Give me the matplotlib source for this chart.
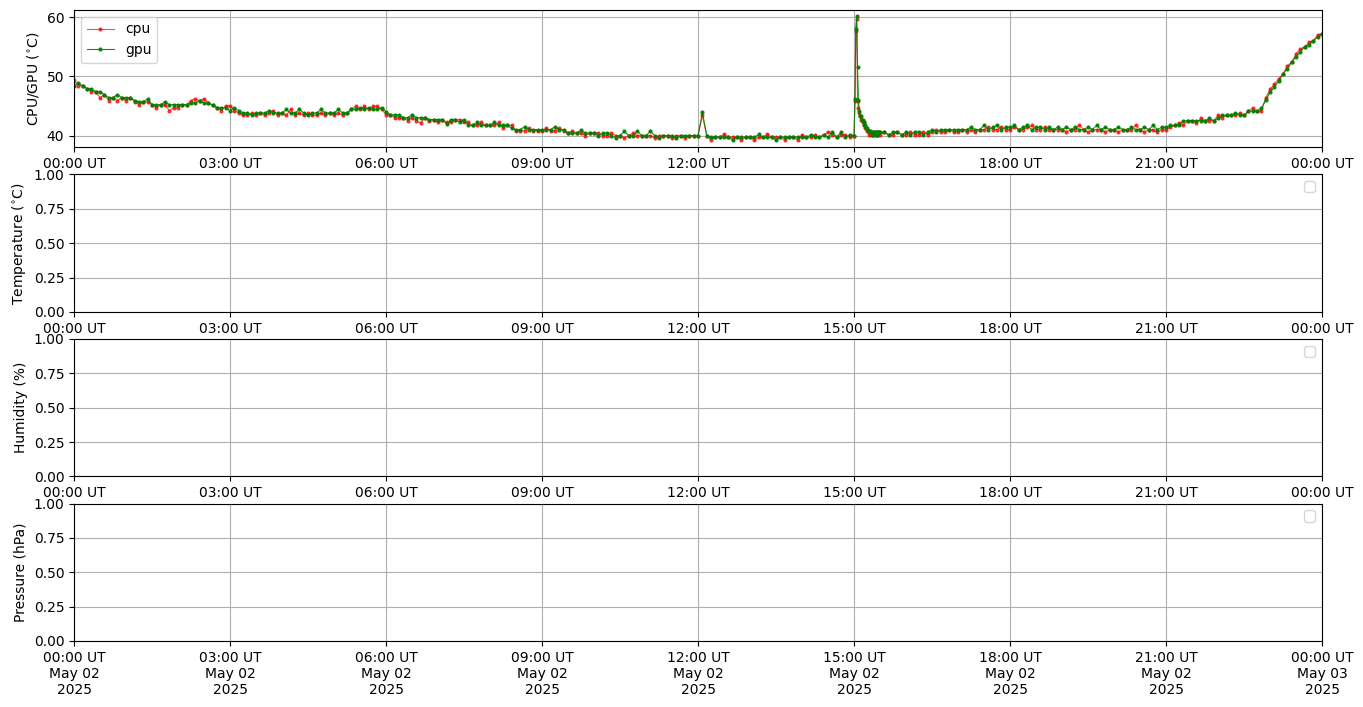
import pandas as pd
import matplotlib.pyplot as plt
import matplotlib.dates as mdates

# sample times in minutes after midnight (5 min, 1 min around the 15:00 spike, then 5 min)
minutes = list(range(0, 900, 5)) + list(range(900, 930, 1)) + list(range(930, 1441, 5))

gpu = [
    # 00h
    48.4, 48.9, 48.4, 47.9, 47.9, 47.4, 47.4, 46.9, 46.4, 46.4, 46.9, 46.4,
    # 01h
    46.4, 46.4, 45.9, 45.7, 45.7, 46.2, 45.2, 45.2, 45.2, 45.7, 45.2, 45.2,
    # 02h
    45.2, 45.2, 45.2, 45.5, 45.5, 45.9, 45.5, 45.5, 45.1, 44.7, 44.7, 44.7,
    # 03h
    44.2, 44.7, 44.2, 43.8, 43.8, 43.4, 43.8, 43.8, 43.8, 44.2, 43.8, 43.8,
    # 04h
    43.8, 44.4, 43.8, 43.8, 44.4, 43.8, 43.4, 43.8, 43.8, 44.4, 43.8, 43.8,
    # 05h
    43.8, 44.4, 43.8, 43.8, 44.4, 44.4, 44.7, 44.4, 44.7, 44.4, 44.4, 44.7,
    # 06h
    44.0, 43.5, 43.5, 43.5, 43.0, 43.0, 43.5, 43.0, 43.0, 43.0, 42.7, 42.7,
    # 07h
    42.7, 42.7, 41.9, 42.7, 42.7, 42.2, 42.7, 41.7, 41.7, 42.2, 41.7, 41.7,
    # 08h
    41.7, 42.2, 41.7, 41.7, 41.7, 41.2, 41.0, 41.0, 41.5, 41.0, 41.0, 41.0,
    # 09h
    41.0, 41.0, 41.0, 41.5, 41.0, 41.0, 40.4, 40.4, 40.4, 40.9, 40.4, 40.4,
    # 10h
    40.4, 39.9, 40.4, 40.4, 40.0, 39.6, 40.0, 40.7, 40.0, 40.0, 40.7, 40.0,
    # 11h
    40.0, 40.7, 40.0, 39.5, 40.0, 40.0, 40.0, 39.5, 40.0, 40.0, 40.0, 40.0,
    # 12h
    40.0, 43.9, 40.0, 39.7, 39.7, 39.7, 39.7, 39.7, 39.2, 39.7, 39.7, 39.7,
    # 13h
    39.7, 39.7, 40.2, 39.7, 39.7, 39.7, 39.2, 39.7, 39.7, 39.7, 39.7, 39.7,
    # 14h
    39.7, 39.7, 40.1, 39.7, 39.7, 40.1, 39.7, 40.6, 39.7, 40.6, 39.7, 40.1,
    # 15:00-15:29 (every minute)
    40.0, 46.1, 58.0, 60.1, 51.5, 46.0, 44.1, 43.3, 43.3, 42.7,
    42.7, 42.2, 41.8, 41.8, 41.3, 41.3, 40.7, 40.7, 40.7, 40.6,
    40.6, 40.6, 40.1, 40.6, 40.6, 40.6, 40.1, 40.6, 40.6, 40.6,
    # 15:30-15:55
    40.6, 40.6, 40.1, 40.6, 40.6, 40.1,
    # 16h
    40.6, 40.1, 40.6, 40.6, 40.1, 40.6, 41.0, 40.6, 41.0, 41.0, 41.0, 41.0,
    # 17h
    41.0, 41.0, 41.0, 41.4, 41.0, 41.0, 41.7, 41.0, 41.4, 41.7, 41.0, 41.4,
    # 18h
    41.4, 41.7, 41.0, 41.4, 41.7, 41.0, 41.4, 41.4, 41.0, 41.4, 41.0, 41.4,
    # 19h
    41.0, 41.4, 41.0, 41.4, 41.0, 41.0, 41.4, 41.0, 41.7, 41.0, 41.4, 41.0,
    # 20h
    41.0, 41.4, 41.0, 41.0, 41.4, 41.0, 41.0, 41.4, 41.0, 41.7, 41.0, 41.4,
    # 21h
    41.4, 41.7, 41.7, 41.7, 42.5, 42.5, 42.5, 42.5, 42.5, 42.5, 42.9, 42.5,
    # 22h
    42.9, 43.4, 43.4, 43.4, 43.8, 43.4, 43.4, 44.1, 44.1, 44.1, 44.6, 46.0,
    # 23h + midnight
    47.3, 48.2, 49.2, 50.4, 51.3, 52.4, 53.3, 54.1, 55.0, 55.3, 56.0, 56.6, 57.2,
]

cpu = [
    # 00h
    49.3, 48.4, 48.4, 47.9, 47.4, 47.4, 46.4, 46.9, 45.9, 46.4, 45.9, 46.4,
    # 01h
    45.9, 46.4, 45.7, 45.2, 45.7, 45.7, 45.2, 44.7, 45.2, 45.2, 44.2, 44.7,
    # 02h
    44.7, 45.2, 45.2, 45.9, 46.2, 45.9, 46.2, 45.5, 45.1, 44.7, 44.2, 45.0,
    # 03h
    45.0, 44.2, 43.8, 43.4, 43.4, 43.8, 43.4, 43.8, 43.4, 43.8, 44.2, 43.4,
    # 04h
    43.8, 43.4, 44.4, 43.4, 43.8, 43.4, 43.8, 43.4, 43.4, 43.8, 43.4, 43.8,
    # 05h
    43.4, 43.8, 43.4, 43.8, 44.4, 44.9, 44.4, 44.9, 44.4, 44.9, 44.9, 44.4,
    # 06h
    43.5, 43.5, 43.0, 43.0, 43.0, 42.5, 43.0, 42.5, 42.1, 43.0, 42.5, 42.7,
    # 07h
    42.2, 42.7, 42.2, 42.2, 42.7, 42.7, 42.2, 42.2, 41.7, 41.7, 42.2, 41.7,
    # 08h
    41.7, 41.7, 42.2, 41.2, 41.7, 41.7, 40.8, 40.8, 40.8, 41.2, 40.8, 40.8,
    # 09h
    40.8, 41.2, 40.8, 40.8, 41.2, 40.8, 40.4, 40.8, 40.4, 40.4, 40.0, 40.4,
    # 10h
    40.4, 40.4, 40.0, 40.0, 40.4, 40.0, 40.0, 39.6, 40.0, 40.4, 40.0, 40.0,
    # 11h
    40.0, 40.0, 39.6, 40.0, 40.0, 40.0, 39.6, 40.0, 40.0, 39.6, 40.0, 40.0,
    # 12h
    40.0, 43.4, 40.0, 39.2, 39.7, 39.7, 40.2, 39.7, 39.7, 39.7, 39.2, 39.7,
    # 13h
    39.7, 39.2, 39.7, 39.7, 40.2, 39.7, 39.7, 39.7, 39.2, 39.7, 39.7, 39.2,
    # 14h
    40.1, 39.7, 39.7, 40.1, 39.7, 40.1, 40.6, 40.1, 39.7, 40.1, 40.1, 39.7,
    # 15:00-15:29 (every minute)
    40.0, 45.9, 57.7, 59.6, 45.9, 44.6, 43.8, 43.3, 42.7, 42.7,
    42.2, 42.2, 41.8, 41.3, 41.3, 40.7, 40.7, 40.1, 40.7, 40.1,
    40.6, 40.1, 40.1, 40.6, 40.1, 40.1, 40.6, 40.1, 40.1, 40.6,
    # 15:30-15:55
    40.1, 40.6, 40.1, 40.1, 40.6, 40.1,
    # 16h
    40.1, 40.6, 40.1, 40.1, 40.6, 40.1, 40.6, 41.0, 40.6, 40.6, 41.0, 40.6,
    # 17h
    40.6, 41.0, 40.6, 41.0, 40.6, 41.0, 41.0, 41.4, 41.0, 41.0, 41.4, 41.0,
    # 18h
    41.0, 41.4, 41.0, 41.0, 41.4, 41.7, 41.0, 41.0, 41.4, 41.0, 41.0, 41.0,
    # 19h
    41.0, 40.6, 41.0, 41.0, 41.7, 41.0, 40.6, 41.0, 41.0, 41.0, 40.6, 41.0,
    # 20h
    41.0, 40.6, 41.0, 41.0, 41.0, 41.7, 41.0, 40.6, 41.0, 41.0, 40.6, 41.0,
    # 21h
    41.0, 41.4, 41.7, 42.1, 41.7, 42.5, 42.5, 42.1, 42.9, 42.5, 42.5, 42.5,
    # 22h
    43.4, 43.0, 43.4, 43.4, 43.4, 43.8, 43.4, 44.1, 44.6, 44.1, 44.1, 46.4,
    # 23h + midnight
    47.8, 48.7, 49.6, 50.4, 51.8, 52.4, 53.8, 54.6, 55.0, 55.8, 56.0, 57.0, 57.2,
]

day = pd.Timestamp('2025-05-02 00:00')
times = day + pd.to_timedelta(minutes, unit='m')

fig, axes = plt.subplots(4, 1, figsize=(13.63, 7.07), dpi=100)
fig.subplots_adjust(left=0.0543, right=0.97, top=0.986, bottom=0.0934, hspace=0.197)

ax = axes[0]
ax.plot(times, cpu, color='red', marker='.', markersize=4, linewidth=0.8, alpha=0.7, label='cpu')
ax.plot(times, gpu, color='green', marker='.', markersize=4, linewidth=0.8, alpha=0.9, label='gpu')
ax.set_ylabel('CPU/GPU ($^{\\circ}$C)')
ax.set_ylim(38.0, 61.2)
ax.legend(loc='upper left')

axes[1].set_ylabel('Temperature ($^{\\circ}$C)')
axes[2].set_ylabel('Humidity (%)')
axes[3].set_ylabel('Pressure (hPa)')
for a in axes[1:]:
    a.set_ylim(0, 1)
    a.legend(loc='upper right')

for i, a in enumerate(axes):
    a.set_xlim(day, day + pd.Timedelta(days=1))
    a.xaxis.set_major_locator(mdates.HourLocator(byhour=range(0, 24, 3)))
    if i == 3:
        a.xaxis.set_major_formatter(mdates.DateFormatter('%H:%M UT\n%b %d\n%Y'))
    else:
        a.xaxis.set_major_formatter(mdates.DateFormatter('%H:%M UT'))
    a.grid(True)

fig.savefig('out.png')
